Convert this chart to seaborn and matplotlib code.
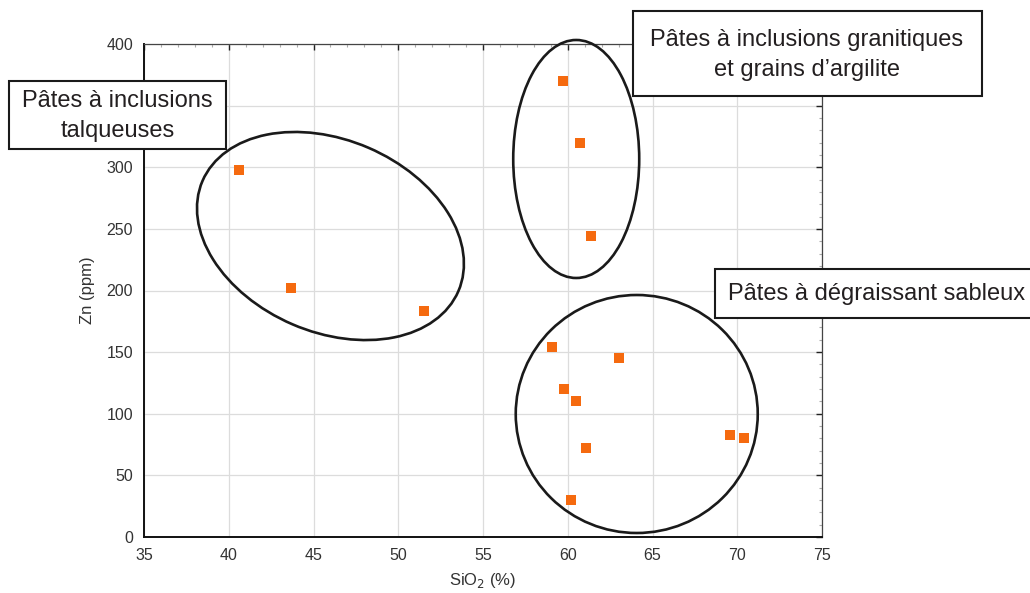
import seaborn as sns
import matplotlib.pyplot as plt
from matplotlib.patches import Ellipse, Rectangle
from matplotlib.transforms import Affine2D
from matplotlib.ticker import MultipleLocator, FuncFormatter

# SiO2 (%) vs Zn (ppm) per sample
sio2 = [40.6, 43.7, 51.5, 59.7, 60.7, 61.4, 59.1, 63.0, 59.8, 60.5, 61.1, 60.2, 69.6, 70.4]
zn = [298, 202, 183, 370, 320, 244, 154, 145, 120, 110, 72, 30, 83, 80]

group_labels = [
    "Pâtes à inclusions\ntalqueuses",
    "Pâtes à inclusions granitiques\net grains d\u2019argilite",
    "Pâtes à dégraissant sableux",
]

W, H = 1030, 593

sns.set_style("white")
plt.rcParams['font.family'] = ['Liberation Sans', 'DejaVu Sans']

fig = plt.figure(figsize=(W / 100, H / 100), dpi=100)
ax = fig.add_axes([144 / W, 1 - 537 / H, 678 / W, 493 / H])

sns.scatterplot(x=sio2, y=zn, marker="s", color="#f56a0f", s=48,
                linewidth=0, ax=ax, zorder=4)

ax.set_xlim(35, 75)
ax.set_ylim(0, 400)
ax.xaxis.set_major_locator(MultipleLocator(5))
ax.xaxis.set_minor_locator(MultipleLocator(1))
ax.yaxis.set_major_locator(MultipleLocator(50))
ax.yaxis.set_minor_locator(MultipleLocator(10))
# the 350 label sits under the left text box in the original
ax.yaxis.set_major_formatter(FuncFormatter(lambda v, p: "" if v == 350 else f"{v:.0f}"))
ax.grid(True, which="major", color="#dcdcdc", linewidth=0.9)
ax.set_axisbelow(True)

ax.tick_params(which="both", direction="in", top=True, right=True,
               labelsize=11.5, labelcolor="#333333")
ax.tick_params(which="major", length=4, color="#222222", width=1, pad=8)
ax.tick_params(which="minor", length=2.5, color="#aaaaaa", width=0.8)

for side in ["left", "bottom"]:
    ax.spines[side].set_color("#111111")
    ax.spines[side].set_linewidth(1.4)
for side in ["top", "right"]:
    ax.spines[side].set_color("#444444")
    ax.spines[side].set_linewidth(0.9)

ax.set_xlabel("SiO$_2$ (%)", fontsize=12, color="#333333", labelpad=6)
ax.set_ylabel("Zn (ppm)", fontsize=12, color="#333333", labelpad=8)

# ellipses: centre in data units, size in pixels
bbox = ax.get_position()
kx = bbox.width * W / 40
ky = bbox.height * H / 400


def add_ellipse(cx, cy, w_px, h_px, angle):
    tr = Affine2D().scale(1 / kx, 1 / ky).translate(cx, cy) + ax.transData
    e = Ellipse((0, 0), w_px, h_px, angle=angle, fill=False,
                edgecolor="#1a1a1a", linewidth=1.9, transform=tr,
                clip_on=False, zorder=5)
    ax.add_patch(e)


add_ellipse(46.0, 244.2, 278.6, 192.2, -23.3)
add_ellipse(60.5, 306.7, 126, 238, 0)
add_ellipse(64.07, 99.8, 242, 238, 0)


def add_box(x0, y0, x1, y1):
    r = Rectangle((x0 / W, 1 - y1 / H), (x1 - x0) / W, (y1 - y0) / H,
                  transform=fig.transFigure, facecolor="white",
                  edgecolor="#1a1a1a", linewidth=1.5, zorder=5)
    fig.add_artist(r)


add_box(9, 81, 226, 149)
fig.text(117.5 / W, 1 - 116 / H, group_labels[0], ha="center", va="center",
         fontsize=17, color="#231f20", linespacing=1.45, zorder=6)

add_box(633, 11, 982, 96)
fig.text(807 / W, 1 - 55 / H, group_labels[1], ha="center", va="center",
         fontsize=17, color="#231f20", linespacing=1.45, zorder=6)

add_box(715, 269, 1045, 318)
fig.text(728 / W, 1 - 294 / H, group_labels[2], ha="left", va="center",
         fontsize=17, color="#231f20", zorder=6)

fig.savefig("out.png", dpi=100)
